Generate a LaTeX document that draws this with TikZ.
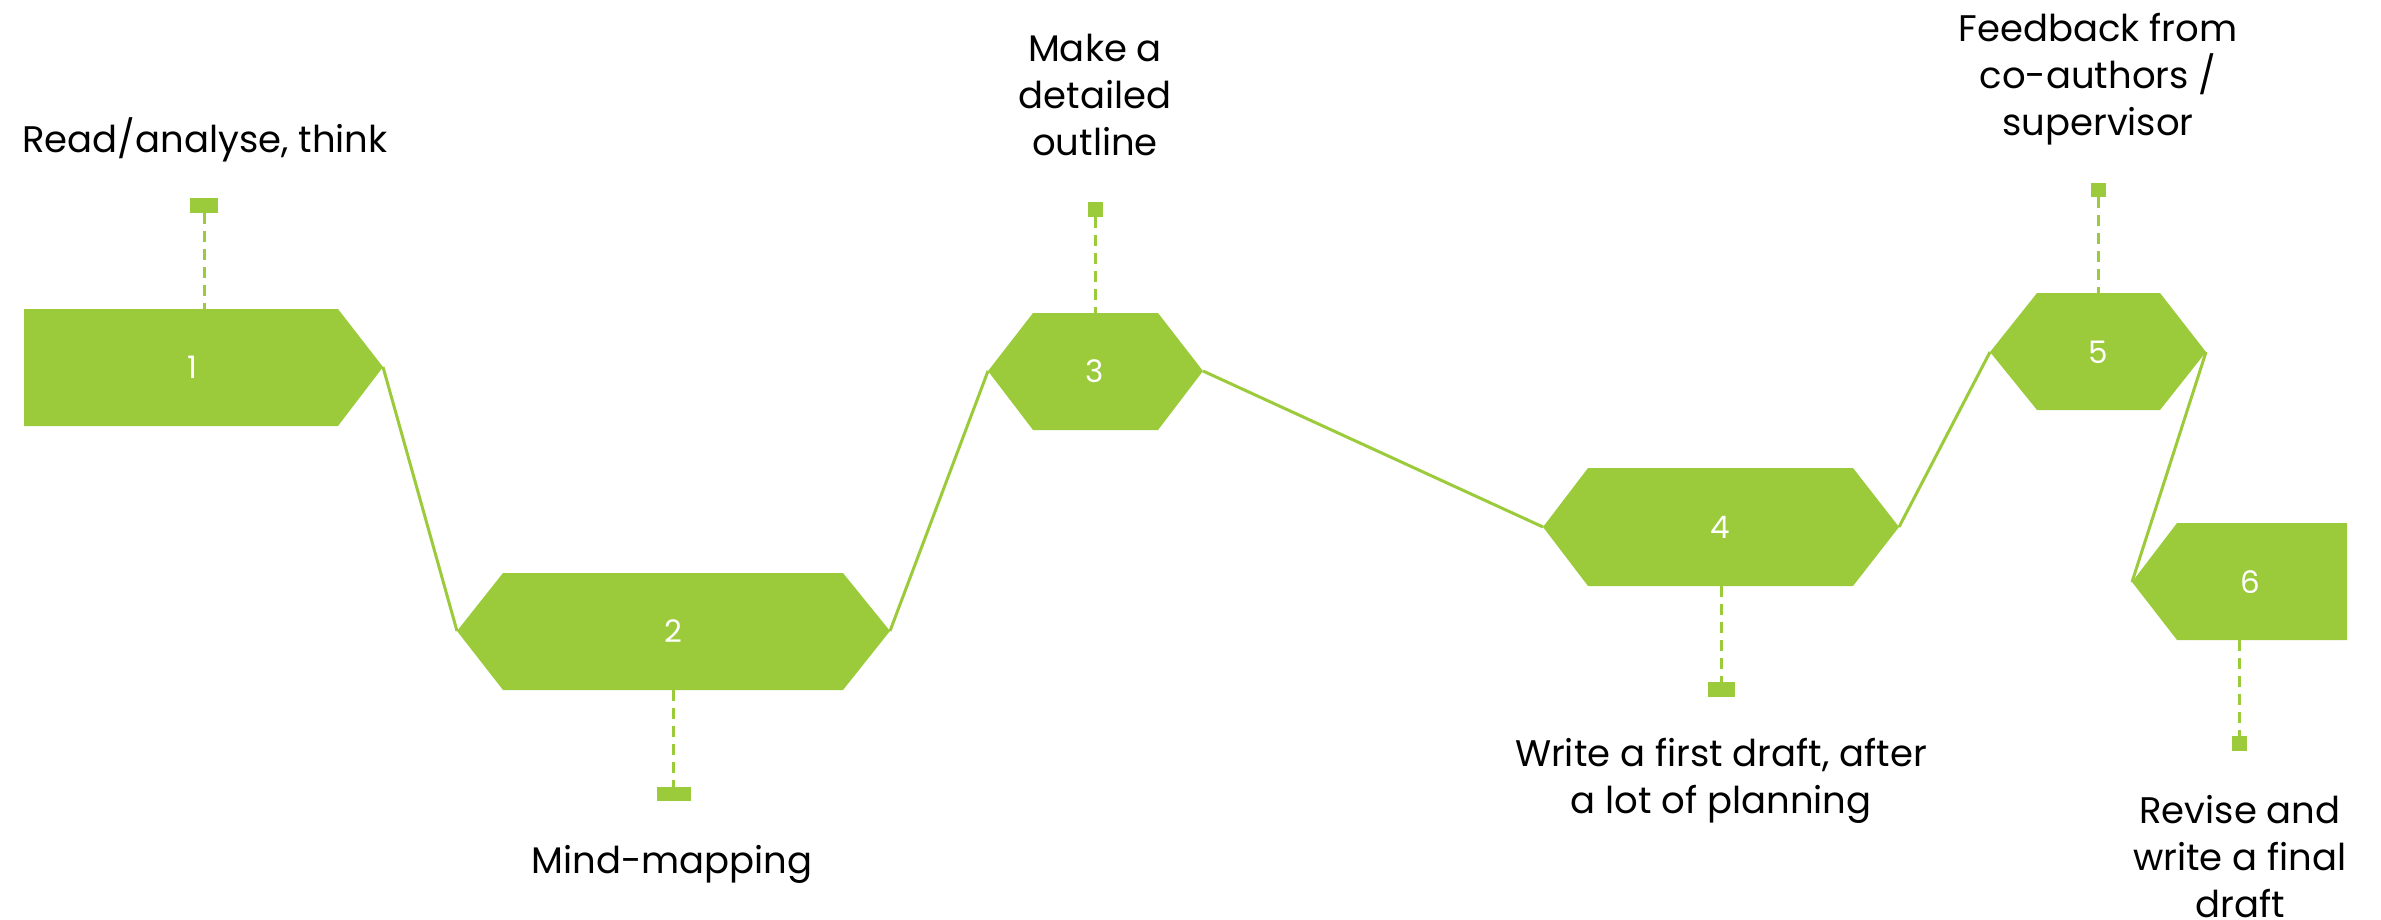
\documentclass[tikz,border=0pt]{standalone}
\usepackage{fontspec}
\setmainfont{Poppins}
\definecolor{grn}{RGB}{155,203,58}
\begin{document}
\begin{tikzpicture}[x=1pt,y=-1pt,
  box/.style={fill=grn},
  conn/.style={draw=grn,line width=3pt},
  leader/.style={draw=grn,line width=3pt,dash pattern=on 11pt off 7pt},
  marker/.style={fill=grn},
  lbl/.style={font=\fontsize{37}{47}\selectfont,align=center,inner sep=0pt,anchor=base},
  num/.style={text=white,font=\fontsize{31}{31}\selectfont,inner sep=0pt}]
\useasboundingbox (0,0) rectangle (2381,919);
% tips
\coordinate (s1r) at (383,367);
\coordinate (s2l) at (457,631);
\coordinate (s2r) at (890,631);
\coordinate (s3l) at (988,371);
\coordinate (s3r) at (1203,371);
\coordinate (s4l) at (1543,527);
\coordinate (s4r) at (1899,527);
\coordinate (s5l) at (1990,352);
\coordinate (s5r) at (2206,352);
\coordinate (s6l) at (2132,582);
% shapes
\fill[box] (24,309) -- (338,309) -- (s1r) -- (338,426) -- (24,426) -- cycle;
\fill[box] (s2l) -- (503,573) -- (843,573) -- (s2r) -- (843,690) -- (503,690) -- cycle;
\fill[box] (s3l) -- (1033,313) -- (1158,313) -- (s3r) -- (1158,430) -- (1033,430) -- cycle;
\fill[box] (s4l) -- (1588,468) -- (1853,468) -- (s4r) -- (1853,586) -- (1588,586) -- cycle;
\fill[box] (s5l) -- (2037,293) -- (2160,293) -- (s5r) -- (2160,410) -- (2037,410) -- cycle;
\fill[box] (s6l) -- (2177,523) -- (2347,523) -- (2347,640) -- (2177,640) -- cycle;
% connectors
\draw[conn] (s1r) -- (s2l);
\draw[conn] (s2r) -- (s3l);
\draw[conn] (s3r) -- (s4l);
\draw[conn] (s4r) -- (s5l);
\draw[conn] (s5r) -- (s6l);
% numbers
\node[num] (n1) at (192,367) {1};
\node[num] (n2) at (673,631) {2};
\node[num] (n3) at (1095,371) {3};
\node[num] (n4) at (1720,527) {4};
\node[num] (n5) at (2098,352) {5};
\node[num] (n6) at (2250,582) {6};
% markers and leaders
\coordinate (m1) at (204,213); \coordinate (b1) at (204,309);
\fill[marker] (190,198) rectangle (218,213);
\draw[leader] (m1) -- (b1);
\coordinate (m2) at (673,787); \coordinate (b2) at (673,690);
\fill[marker] (657,787) rectangle (691,801);
\draw[leader] (b2) -- (m2);
\coordinate (m3) at (1095,217); \coordinate (b3) at (1095,313);
\fill[marker] (1088,202) rectangle (1103,217);
\draw[leader] (m3) -- (b3);
\coordinate (m4) at (1721,682); \coordinate (b4) at (1721,586);
\fill[marker] (1708,682) rectangle (1735,697);
\draw[leader] (b4) -- (m4);
\coordinate (m5) at (2098,197); \coordinate (b5) at (2098,293);
\fill[marker] (2091,183) rectangle (2106,197);
\draw[leader] (m5) -- (b5);
\coordinate (m6) at (2239,736); \coordinate (b6) at (2239,640);
\fill[marker] (2232,736) rectangle (2247,751);
\draw[leader] (b6) -- (m6);
% labels (base anchor = baseline of last line)
\node[lbl] (l1) at (205,152) {Read/analyse, think};
\node[lbl] (l2) at (672,873) {Mind-mapping};
\node[lbl] (l3) at (1095,155) {Make a\\detailed\\outline};
\node[lbl] (l4) at (1721,813) {Write a first draft, after\\a lot of planning};
\node[lbl] (l5) at (2098,135) {Feedback from\\co-authors /\\supervisor};
\node[lbl] (l6) at (2240,917) {Revise and\\write a final\\draft};
\end{tikzpicture}
\end{document}
